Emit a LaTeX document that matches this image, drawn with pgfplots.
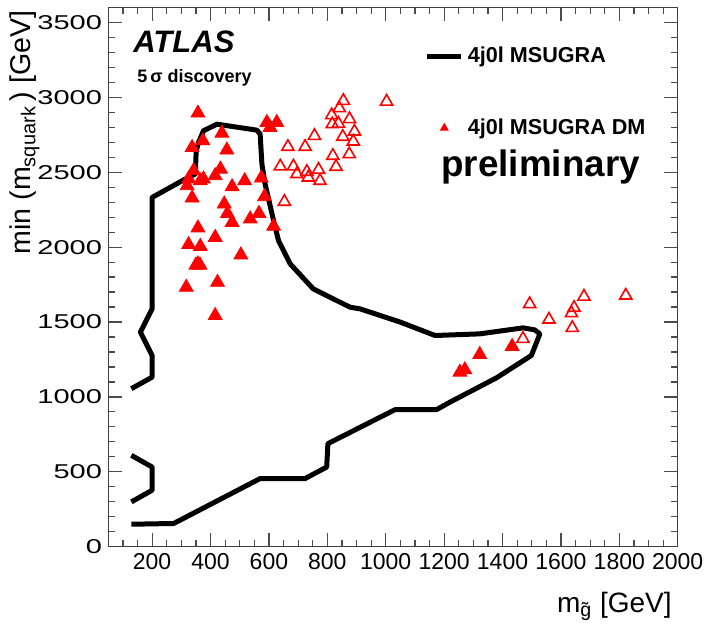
\documentclass[border=0pt]{standalone}
\usepackage{pgfplots}
\pgfplotsset{compat=1.18}
\usepackage{fontspec}
\setmainfont{Liberation Sans}
\begin{document}
\begin{tikzpicture}
\begin{axis}[
  name=ax,
  scale only axis,
  width=284.7pt, height=269.6pt,
  xmin=50, xmax=2000, ymin=0, ymax=3600,
  xtick={200,400,...,2000},
  ytick={0,500,...,3500},
  minor xtick={50,100,...,2000},
  minor ytick={0,100,...,3600},
  tick align=inside,
  major tick length=7pt, minor tick length=3.5pt,
  axis line style={black!75, line width=0.7pt},
  every tick/.style={black!70, line width=0.6pt},
  /pgf/number format/assume math mode=true,
  /pgf/number format/1000 sep={},
  xticklabel style={font=\fontsize{11.5}{12}\selectfont},
  yticklabel style={font=\fontsize{10}{12}\selectfont, xscale=1.45, inner sep=2pt},
  xlabel={m\textsubscript{g̃} [GeV]},
  ylabel={min (m\textsubscript{squark}\,) [GeV]},
  xlabel style={font=\fontsize{14}{15}\selectfont, inner sep=0pt, at={(axis description cs:0.99,-0.083)}, anchor=north east},
  ylabel style={font=\fontsize{14.3}{15}\selectfont, inner sep=0pt, at={(axis description cs:-0.12,0.995)}, anchor=south east},
  legend entries={4j0l MSUGRA, 4j0l MSUGRA DM},
  legend style={draw=none, fill=none, at={(axis description cs:0.555,0.935)}, anchor=north west,
    font=\bfseries\fontsize{10.8}{12}\selectfont, row sep=22.5pt, inner sep=0pt},
  legend cell align=left,
  legend image post style={mark size=2.2pt},
]
% 5 sigma contour
\addplot[black, line width=2.5pt, line join=round] coordinates {
(129,1055) (200,1132) (200,1277) (160,1432) (200,1588) (200,2332)
(314,2455) (348,2488) (351,2643) (359,2699) (376,2777) (422,2821)
(559,2781) (570,2755) (576,2555) (587,2421) (616,2177) (633,2043)
(673,1888) (752,1721) (878,1599) (912,1588) (1049,1500) (1169,1410)
(1322,1421) (1470,1461) (1510,1448) (1528,1421) (1499,1277) (1380,1128)
(1220,965) (1174,915) (1032,915) (802,688) (798,532) (724,455)
(570,455) (274,155) (129,150)};
\addplot[black, line width=2.5pt, line join=round, forget plot] coordinates {
(129,610) (200,532) (200,377) (129,299)};
% DM points, filled
\addplot[only marks, mark=triangle*, red, mark size=4pt] coordinates {
(357,2895) (439,2761) (374,2710) (337,2665) (456,2648) (342,2510)
(325,2455) (320,2410) (365,2443) (376,2455) (434,2521) (416,2477)
(474,2403) (517,2443) (574,2461) (337,2328) (585,2337) (447,2288)
(458,2225) (474,2165) (536,2188) (566,2225) (616,2139) (357,2128)
(325,2017) (365,2005) (416,2065) (357,1888) (350,1880) (364,1880)
(504,1948) (317,1732) (424,1765) (416,1543) (593,2832) (627,2832)
(604,2799) (1254,1165) (1271,1181) (1322,1283) (1433,1337)};
% DM points, open
\addplot[only marks, mark=triangle, red, mark size=3.5pt, line width=0.8pt, forget plot] coordinates {
(665,2670) (724,2670) (756,2743) (639,2539) (684,2539) (696,2488)
(730,2503) (735,2465) (770,2517) (775,2443) (653,2303) (819,2610)
(830,2537) (815,2881) (817,2821) (838,2825) (876,2855) (841,2928)
(855,2977) (853,2737) (893,2772) (889,2705) (875,2621) (1003,2972)
(1493,1620) (1559,1517) (1636,1559) (1645,1595) (1679,1670) (1639,1461)
(1822,1677) (1470,1388)};
\node[anchor=base west, inner sep=0pt, font=\bfseries\itshape\fontsize{15.5}{16}\selectfont] at (axis description cs:0.0434,0.9156) {ATLAS};
\node[anchor=base west, inner sep=0pt, font=\bfseries\fontsize{9}{10}\selectfont] at (axis description cs:0.0504,0.86) {5\,σ discovery};
\node[anchor=base west, inner sep=0pt, font=\bfseries\fontsize{18.4}{20}\selectfont] at (axis description cs:0.5843,0.6857) {preliminary};
\end{axis}
\pgfresetboundingbox
\path[use as bounding box] ([xshift=-54.15pt,yshift=-38.65pt]ax.south west) rectangle ([xshift=13.15pt,yshift=3.75pt]ax.north east);
\end{tikzpicture}
\end{document}
